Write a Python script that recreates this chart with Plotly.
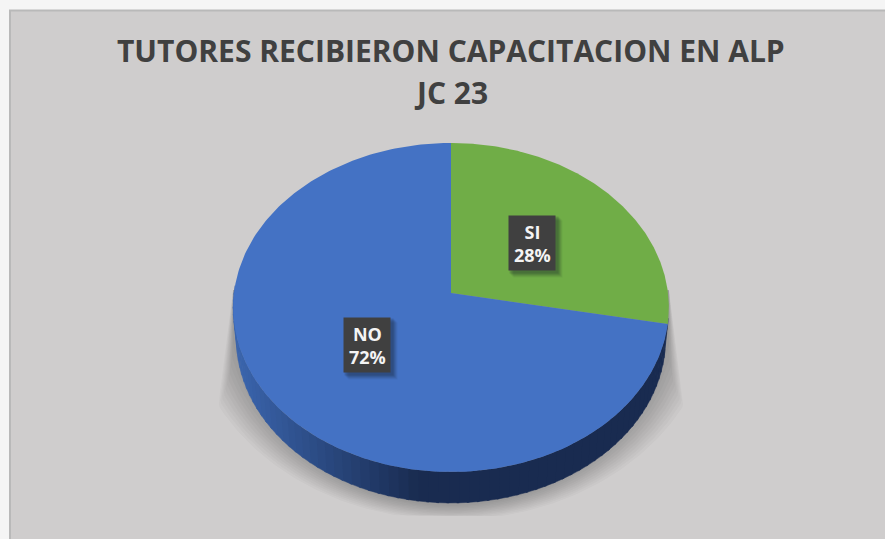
import numpy as np
import plotly.graph_objects as go

categories = ["SI", "NO"]
values = [28, 72]
slice_colors = ["#70AD47", "#4472C4"]
title_lines = ["TUTORES RECIBIERON CAPACITACION EN ALP", "JC 23"]

W, H = 885, 539
CX, CY = 451, 293
K, A, C = 0.088, 163.2, 217.0
DEPTH = 31
BG = "#CFCDCD"


def rim(t_deg, xscale=1.0, dy=0.0):
    t = np.radians(np.asarray(t_deg, dtype=float))
    u, v = np.sin(t), np.cos(t)
    d = 1 + K * v
    return CX + xscale * C * u / d, CY - A * v / d + dy


def mix(c1, c2, f):
    r = [c1[i] + (c2[i] - c1[i]) * f for i in range(3)]
    return "rgb(%d,%d,%d)" % tuple(round(x) for x in r)


fig = go.Figure()

# soft cast shadow under the disc
for e in np.linspace(1, 0, 11):
    a = np.radians(np.linspace(-90, 270, 361))
    y = 308 + (198 + 14 * e) * np.sin(a)
    x_half = (222 + 40 * e) * np.cos(a)
    lim = 218 + np.clip((y - 290) / 110, 0, 1) * (14 * e)
    x = 451 + np.clip(x_half, -lim, lim)
    y = np.clip(y, 290, 516)
    fig.add_trace(go.Scatter(x=x, y=y, mode="lines", fill="toself",
                             fillcolor="rgba(0,0,0,0.024)", line=dict(width=0),
                             hoverinfo="skip", showlegend=False))

# side wall of the disc, shaded left to right
start = values[0] / sum(values) * 360
edges = np.linspace(start - 2, 272, 71)
for a0, a1 in zip(edges[:-1], edges[1:]):
    ts = np.linspace(a0, a1 + 0.6, 4)
    x1, y1 = rim(ts)
    x2, y2 = rim(ts[::-1], 0.985, DEPTH)
    xm = (x1.mean() - 238) / (417 - 238)
    col = mix((58, 100, 172), (25, 43, 80), float(np.clip(xm, 0, 1)))
    fig.add_trace(go.Scatter(x=np.r_[x1, x2], y=np.r_[y1, y2], mode="lines",
                             fill="toself", fillcolor=col, line=dict(width=0.5, color=col),
                             hoverinfo="skip", showlegend=False))

# top face, one wedge per value
cum = 0.0
total = sum(values)
for name, val, col in zip(categories, values, slice_colors):
    t0, t1 = cum / total * 360, (cum + val) / total * 360
    ts = np.linspace(t0, t1, 240)
    xs, ys = rim(ts)
    fig.add_trace(go.Scatter(x=np.r_[CX, xs, CX], y=np.r_[CY, ys, CY], mode="lines",
                             fill="toself", fillcolor=col, line=dict(width=0),
                             name=name, hoverinfo="name", showlegend=False))
    cum += val

shapes = [dict(type="rect", x0=10, y0=10.5, x1=W + 5, y1=H + 5, layer="below",
               fillcolor=BG, line=dict(color="#B9B9B9", width=2))]

# data labels
label_centers = {"SI": (532, 243), "NO": (367, 345)}
box_w, box_h = 47, 55
annotations = []
for name, val in zip(categories, values):
    lx, ly = label_centers[name]
    for off, alpha in [(7, 0.06), (6, 0.08), (5, 0.10), (4, 0.12), (3, 0.14)]:
        shapes.append(dict(type="rect", x0=lx - box_w / 2 + off - 2, x1=lx + box_w / 2 + off,
                           y0=ly - box_h / 2 + off - 2, y1=ly + box_h / 2 + off,
                           fillcolor="rgba(20,30,40,%.2f)" % alpha, line=dict(width=0)))
    shapes.append(dict(type="rect", x0=lx - box_w / 2, x1=lx + box_w / 2,
                       y0=ly - box_h / 2, y1=ly + box_h / 2,
                       fillcolor="#404040", line=dict(width=0)))
    annotations.append(dict(x=lx, y=ly, xref="x", yref="y", showarrow=False,
                            text=f"<b>{name}<br>{val}%</b>", align="center",
                            font=dict(family="Open Sans", size=18, color="#F4F4F4")))

for line, y in zip(title_lines, [50, 92]):
    annotations.append(dict(x=451, y=y, xref="x", yref="y", showarrow=False,
                            text=f"<b>{line}</b>",
                            font=dict(family="Open Sans", size=30, color="#404040")))

fig.update_layout(
    width=W, height=H, margin=dict(l=0, r=0, t=0, b=0),
    paper_bgcolor="#F5F5F5", plot_bgcolor="rgba(0,0,0,0)",
    xaxis=dict(range=[0, W], visible=False, fixedrange=True),
    yaxis=dict(range=[H, 0], visible=False, fixedrange=True),
    shapes=shapes, annotations=annotations, showlegend=False,
)
fig.write_html("out.html", config={"displayModeBar": False},
               post_script="document.body.style.margin='0';document.documentElement.style.overflow='hidden';")
